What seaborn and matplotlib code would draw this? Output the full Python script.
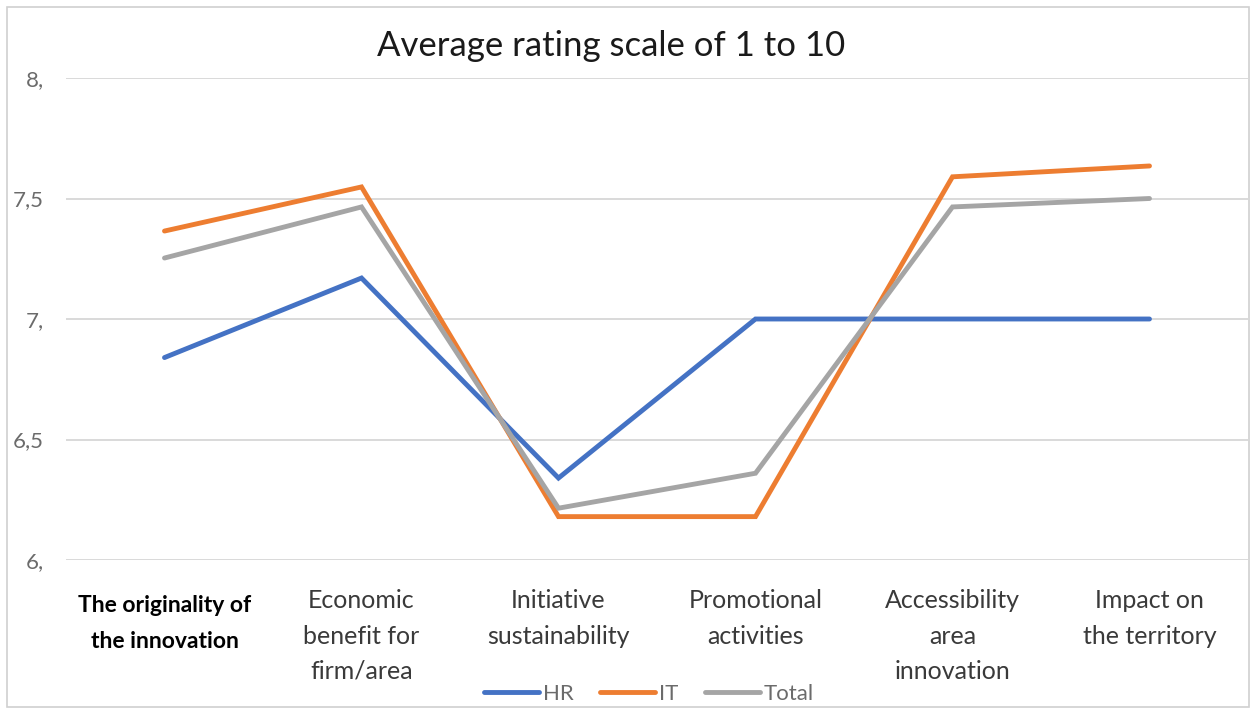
import matplotlib
matplotlib.use("Agg")
import matplotlib.pyplot as plt
from matplotlib.patches import Rectangle
from matplotlib.lines import Line2D
from matplotlib.transforms import ScaledTranslation
import pandas as pd
import seaborn as sns

# Survey criteria (x-axis categories)
categories = [
    "The originality of\nthe innovation",
    "Economic\nbenefit for\nfirm/area",
    "Initiative\nsustainability",
    "Promotional\nactivities",
    "Accessibility\narea\ninnovation",
    "Impact on\nthe territory",
]

# Average ratings per group
hr_values = [6.84, 7.17, 6.34, 7.00, 7.00, 7.00]
it_values = [7.365, 7.548, 6.18, 6.18, 7.59, 7.635]
total_values = [7.253, 7.465, 6.215, 6.36, 7.465, 7.50]

series_names = ["HR", "IT", "Total"]
series_colors = ["#4472C4", "#ED7D31", "#A5A5A5"]
y_ticks = [6.0, 6.5, 7.0, 7.5, 8.0]
y_tick_labels = ["6,", "6,5", "7,", "7,5", "8,"]

rows = []
for name, vals in zip(series_names, [hr_values, it_values, total_values]):
    for i, v in enumerate(vals):
        rows.append({"pos": i, "value": v, "group": name})
df = pd.DataFrame(rows)

sns.set_theme(style="white")
plt.rcParams["font.family"] = ["Lato", "DejaVu Sans"]

fig = plt.figure(figsize=(12.5, 7.08), dpi=100)
ax = fig.add_axes([66 / 1250, 1 - 560 / 708, (1248 - 66) / 1250, (560 - 78) / 708])

sns.lineplot(
    data=df, x="pos", y="value", hue="group",
    hue_order=series_names, palette=series_colors,
    linewidth=3.5, legend=False, ax=ax,
)
for line in ax.get_lines():
    line.set_solid_capstyle("round")
    line.set_solid_joinstyle("miter")

ax.set_xlim(-0.5, len(categories) - 0.5)
ax.set_ylim(6.0, 8.0)
ax.set_yticks(y_ticks)
ax.set_yticklabels(y_tick_labels)
ax.set_xticks(range(len(categories)))
ax.set_xticklabels(categories, linespacing=1.65)
ax.set_xlabel("")
ax.set_ylabel("")

ax.yaxis.grid(True, color="#D9D9D9", linewidth=1.4)
ax.set_axisbelow(True)
for s in ax.spines.values():
    s.set_visible(False)

ax.tick_params(axis="y", length=0, pad=16, labelsize=16, labelcolor="#6b6b6b")
ax.tick_params(axis="x", length=0, pad=21, labelsize=18, labelcolor="#3a3a3a")
for lbl in ax.get_xticklabels():
    lbl.set_verticalalignment("top")

# first criterion is emphasised in bold, set slightly lower
first = ax.get_xticklabels()[0]
first.set_fontweight("bold")
first.set_fontsize(16.5)
first.set_color("#000000")
first.set_linespacing(1.85)
first.set_transform(first.get_transform() + ScaledTranslation(0, -0.06, fig.dpi_scale_trans))

fig.text(0.489, 0.935, "Average rating scale of 1 to 10", ha="center", va="center",
         fontsize=25, color="#1a1a1a")

handles = [Line2D([0], [0], color=c, lw=3.5) for c in series_colors]
leg = fig.legend(handles, series_names, loc="center", bbox_to_anchor=(0.519, 0.02),
                 ncol=3, frameon=False, fontsize=16, handlelength=2.5,
                 handletextpad=0.15, columnspacing=1.2)
for t in leg.get_texts():
    t.set_color("#6b6b6b")

fig.patches.append(Rectangle((7 / 1250, 0.002), (1249 - 7) / 1250, 1 - 7 / 708 - 0.002,
                             transform=fig.transFigure, fill=False,
                             edgecolor="#D0D0D0", linewidth=1.2))

fig.savefig("out.png", dpi=100, facecolor="white")
